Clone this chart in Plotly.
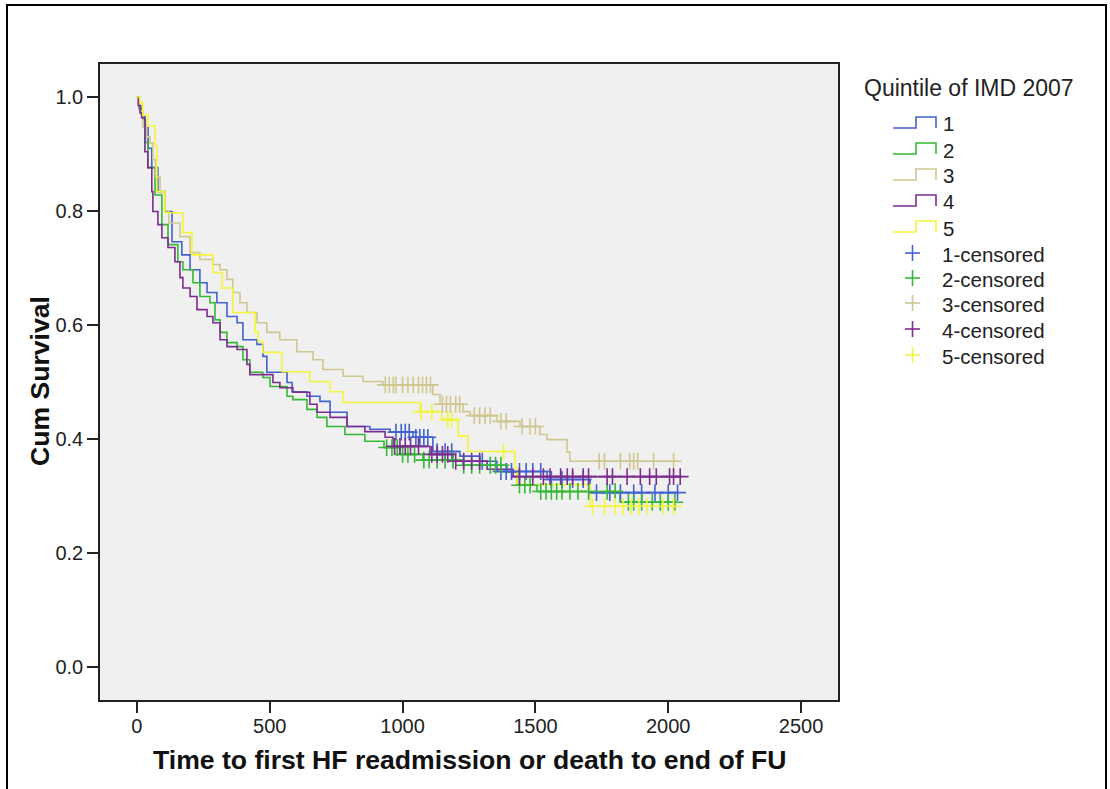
import bisect
import plotly.graph_objects as go

# ---------------- data ----------------
groups = ["1", "2", "3", "4", "5"]

t1 = [0, 8, 18, 30, 42, 56, 79, 105, 132, 169, 200, 237, 264, 301, 339, 377, 399, 452, 474, 489, 565,
      584, 640, 689, 727, 791, 877, 953, 1039, 1114, 1216, 1291, 1355, 1544, 1706, 2040]
s1 = [1.0, 0.980, 0.965, 0.946, 0.910, 0.876, 0.834, 0.799, 0.746, 0.723, 0.697, 0.674, 0.657, 0.639,
      0.615, 0.604, 0.574, 0.566, 0.545, 0.517, 0.499, 0.483, 0.475, 0.466, 0.447, 0.422, 0.417, 0.412,
      0.403, 0.378, 0.370, 0.361, 0.343, 0.329, 0.306, 0.306]
c1 = [975, 995, 1010, 1025, 1050, 1065, 1080, 1095, 1130, 1160, 1185, 1300, 1370, 1390, 1410, 1440,
      1465, 1490, 1520, 1560, 1600, 1640, 1680, 1730, 1780, 1820, 1870, 1900, 1950, 2000, 2035]

t2 = [0, 8, 15, 23, 32, 41, 68, 94, 117, 154, 173, 211, 237, 275, 294, 313, 339, 377, 399, 425, 474,
      501, 565, 587, 640, 678, 715, 783, 858, 930, 990, 1077, 1227, 1393, 1431, 1506, 1819, 2030]
s2 = [1.0, 0.985, 0.970, 0.960, 0.920, 0.876, 0.828, 0.776, 0.741, 0.711, 0.697, 0.674, 0.650, 0.639,
      0.609, 0.587, 0.569, 0.562, 0.539, 0.517, 0.508, 0.492, 0.475, 0.469, 0.452, 0.438, 0.422, 0.408,
      0.396, 0.385, 0.373, 0.363, 0.354, 0.342, 0.319, 0.308, 0.289, 0.289]
c2 = [940, 960, 980, 1000, 1020, 1045, 1080, 1100, 1130, 1160, 1190, 1230, 1260, 1290, 1330, 1350,
      1370, 1440, 1460, 1480, 1520, 1540, 1560, 1580, 1600, 1630, 1660, 1700, 1770, 1800, 1850, 1870,
      1900, 1940, 1970, 2000, 2025]

t3 = [0, 10, 23, 36, 49, 60, 70, 87, 105, 120, 162, 200, 237, 286, 313, 339, 361, 388, 414, 452, 489,
      538, 602, 663, 700, 776, 851, 926, 1114, 1141, 1227, 1254, 1355, 1442, 1517, 1544, 1619, 1630,
      2037]
s3 = [1.0, 0.975, 0.947, 0.930, 0.919, 0.890, 0.860, 0.832, 0.800, 0.779, 0.755, 0.727, 0.715, 0.706,
      0.697, 0.680, 0.657, 0.639, 0.622, 0.604, 0.587, 0.574, 0.553, 0.539, 0.522, 0.510, 0.501, 0.495,
      0.478, 0.461, 0.448, 0.441, 0.431, 0.422, 0.408, 0.399, 0.377, 0.361, 0.361]
c3 = [935, 950, 965, 975, 1000, 1020, 1040, 1060, 1075, 1090, 1105, 1150, 1165, 1180, 1200, 1215,
      1270, 1290, 1310, 1330, 1370, 1390, 1450, 1480, 1500, 1740, 1760, 1820, 1855, 1870, 1885, 1945, 2020]

t4 = [0, 5, 12, 19, 30, 41, 56, 60, 79, 94, 117, 143, 162, 173, 200, 226, 264, 286, 313, 339, 377, 414,
      425, 512, 538, 587, 651, 678, 727, 791, 858, 934, 964, 1103, 1190, 1318, 1416, 2050]
s4 = [1.0, 0.985, 0.972, 0.963, 0.904, 0.876, 0.834, 0.799, 0.776, 0.753, 0.736, 0.711, 0.683, 0.665,
      0.650, 0.627, 0.615, 0.604, 0.574, 0.562, 0.557, 0.531, 0.513, 0.499, 0.490, 0.482, 0.461, 0.447,
      0.438, 0.422, 0.413, 0.403, 0.387, 0.373, 0.361, 0.347, 0.334, 0.334]
c4 = [970, 990, 1010, 1030, 1060, 1110, 1130, 1150, 1170, 1200, 1230, 1260, 1290, 1440, 1490, 1530,
      1555, 1595, 1620, 1640, 1680, 1700, 1770, 1790, 1845, 1895, 1930, 1955, 2005, 2020, 2045]

t5 = [0, 11, 22, 41, 68, 75, 105, 173, 207, 286, 320, 361, 444, 456, 474, 546, 651, 727, 776, 1066,
      1148, 1209, 1246, 1423, 1431, 1706, 2033]
s5 = [1.0, 0.990, 0.968, 0.949, 0.914, 0.834, 0.797, 0.762, 0.723, 0.692, 0.665, 0.622, 0.588, 0.571,
      0.552, 0.518, 0.501, 0.483, 0.464, 0.448, 0.434, 0.405, 0.378, 0.350, 0.320, 0.282, 0.282]
c5 = [1070, 1110, 1170, 1185, 1380, 1715, 1760, 1800, 1830, 1860, 1890, 1920, 1980, 2020]

x_ticks = [0, 500, 1000, 1500, 2000, 2500]
y_ticks = [0.0, 0.2, 0.4, 0.6, 0.8, 1.0]

legend_title = "Quintile of IMD 2007"
x_title = "Time to first HF readmission or death to end of FU"
y_title = "Cum Survival"

# ---------------- styling ----------------
colors = ["#4262CF", "#35B835", "#CFC78F", "#7D2C8F", "#F4F43A"]
series = [(t1, s1, c1), (t2, s2, c2), (t3, s3, c3), (t4, s4, c4), (t5, s5, c5)]

W, H = 1110, 789
L, R, T, B = 100, 838, 64, 700


def pxx(px):
    return (px - L) / (R - L)


def pxy(py):
    return (B - py) / (B - T)


fig = go.Figure()
for (t, s, c), col, g in zip(series, colors, groups):
    fig.add_trace(go.Scatter(x=t, y=s, mode="lines", name=g,
                             line=dict(shape="hv", color=col, width=1.6),
                             showlegend=False, hoverinfo="skip"))
for (t, s, c), col, g in zip(series, colors, groups):
    cy = [s[bisect.bisect_right(t, ct) - 1] for ct in c]
    fig.add_trace(go.Scatter(x=c, y=cy, mode="markers", name=g + "-censored",
                             marker=dict(symbol="cross-thin", size=12,
                                         line=dict(color=col, width=1.6)),
                             showlegend=False, hoverinfo="skip"))

font_main = "Liberation Sans, Arial, sans-serif"

fig.update_layout(
    width=W, height=H, autosize=False,
    margin=dict(l=L, r=W - R, t=T, b=H - B, pad=0),
    paper_bgcolor="white", plot_bgcolor="#F0F0F0",
    font=dict(family=font_main, size=20, color="#222222"),
    xaxis=dict(range=[-139, 2639], tickvals=x_ticks, ticks="outside", ticklen=11, tickwidth=1.5,
               tickcolor="#222222", showline=True, linecolor="#222222", linewidth=1.5, mirror=True,
               showgrid=False, zeroline=False, tickfont=dict(size=20), ticklabelstandoff=-4),
    yaxis=dict(range=[-0.0578, 1.0578], tickvals=y_ticks, tickformat=".1f", ticks="outside",
               ticklen=11, tickwidth=1.5, tickcolor="#222222", showline=True, linecolor="#222222",
               linewidth=1.5, mirror=True, showgrid=False, zeroline=False, tickfont=dict(size=20)),
)

ann = []
ann.append(dict(text="<b>" + x_title + "</b>", xref="paper", yref="paper", x=pxx(470), y=pxy(760),
                xanchor="center", yanchor="middle", showarrow=False,
                font=dict(family=font_main, size=26.6, color="#111111")))
ann.append(dict(text="<b>" + y_title + "</b>", xref="paper", yref="paper", x=pxx(40), y=pxy(381),
                xanchor="center", yanchor="middle", showarrow=False, textangle=-90,
                font=dict(family=font_main, size=26.6, color="#111111")))
ann.append(dict(text=legend_title, xref="paper", yref="paper", x=pxx(862), y=pxy(88),
                xanchor="left", yanchor="middle", showarrow=False,
                font=dict(family=font_main, size=23, color="#222222")))

shapes = []
line_rows = [123, 149, 175, 201, 227]
cens_rows = [253, 278, 303, 329, 355]
for g, col, cy in zip(groups, colors, line_rows):
    yb, yt = pxy(cy + 5), pxy(cy - 6)
    path = "M {a},{yb} L {b},{yb} L {b},{yt} L {c},{yt} L {c},{yb}".format(
        a=pxx(893), b=pxx(916), c=pxx(936), yb=yb, yt=yt)
    shapes.append(dict(type="path", path=path, xref="paper", yref="paper",
                       line=dict(color=col, width=1.6)))
    ann.append(dict(text=g, xref="paper", yref="paper", x=pxx(941), y=pxy(cy + 1),
                    xanchor="left", yanchor="middle", showarrow=False,
                    font=dict(family=font_main, size=20.5, color="#222222")))
for g, col, cy in zip(groups, colors, cens_rows):
    shapes.append(dict(type="line", xref="paper", yref="paper", x0=pxx(905), x1=pxx(920),
                       y0=pxy(cy), y1=pxy(cy), line=dict(color=col, width=1.6)))
    shapes.append(dict(type="line", xref="paper", yref="paper", x0=pxx(912.5), x1=pxx(912.5),
                       y0=pxy(cy - 8), y1=pxy(cy + 8), line=dict(color=col, width=1.6)))
    ann.append(dict(text=g + "-censored", xref="paper", yref="paper", x=pxx(940), y=pxy(cy + 1),
                    xanchor="left", yanchor="middle", showarrow=False,
                    font=dict(family=font_main, size=20.5, color="#222222")))

# outer frame of the exported chart
shapes.append(dict(type="path", xref="paper", yref="paper",
                   path="M {l},{b} L {l},{t} L {r},{t} L {r},{b}".format(
                       l=pxx(7), r=pxx(1106), t=pxy(5), b=pxy(800)),
                   line=dict(color="black", width=2)))

fig.update_layout(annotations=ann, shapes=shapes)
fig.write_html("out.html", config={"displayModeBar": False},
               post_script="document.body.style.margin='0';")
